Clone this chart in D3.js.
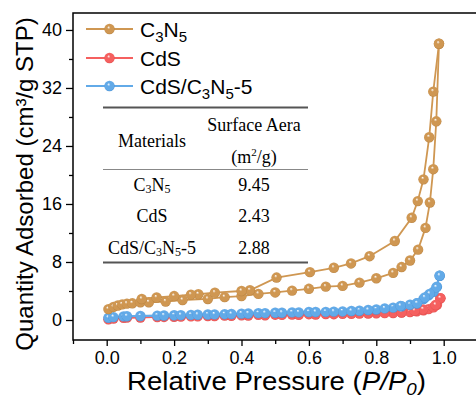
<!DOCTYPE html>
<html>
<head>
<meta charset="utf-8">
<script src="https://cdn.jsdelivr.net/npm/d3@7"></script>
<style>
  body { margin: 0; background: #fff; }
  svg { display: block; font-family: "Liberation Sans", Arial, sans-serif; }
  .tbl { font-family: "Liberation Serif", "Times New Roman", serif; font-size: 18px; }
</style>
</head>
<body>
<div id="chart"></div>
<script>
// C3N5 isotherm (adsorption + desorption branches)
var c3n5AdsP = [0.005,0.02,0.033,0.046,0.06,0.076,0.1,0.125,0.175,0.225,0.3,0.35,0.4,0.45,0.5,0.55,0.6,0.65,0.7,0.75,0.8,0.85,0.875,0.9,0.924,0.946,0.959,0.969,0.978,0.986]
var c3n5AdsQ = [1.5,1.8,2.0,2.15,2.25,2.3,2.45,2.45,2.55,2.75,2.9,3.15,3.3,3.6,3.8,4.05,4.3,4.6,4.7,5.15,5.75,6.5,7.3,8.2,9.7,12.7,16.2,20.8,27.4,38.1]
var c3n5DesP = [0.986,0.969,0.957,0.94,0.923,0.905,0.855,0.78,0.725,0.674,0.603,0.504,0.425,0.4,0.321,0.272,0.25,0.2,0.148,0.104]
var c3n5DesQ = [38.1,31.5,25.2,19.4,16.4,14.1,10.9,8.8,7.8,7.2,6.6,5.85,4.1,4.0,3.77,3.55,3.5,3.3,3.1,2.9]

// CdS
var cdsAdsP = [0.005,0.02,0.05,0.1,0.15,0.2,0.25,0.3,0.35,0.4,0.45,0.5,0.55,0.6,0.65,0.7,0.75,0.8,0.85,0.875,0.9,0.92,0.94,0.955,0.97,0.98,0.99]
var cdsAdsQ = [0.1,0.2,0.3,0.35,0.4,0.45,0.5,0.55,0.6,0.65,0.7,0.73,0.76,0.8,0.82,0.85,0.88,0.92,0.97,1.03,1.1,1.2,1.35,1.5,1.75,2.1,3.0]
var cdsDesP = [0.99,0.976,0.939,0.914,0.875,0.825,0.776,0.726,0.674,0.62,0.57,0.52,0.47,0.42,0.37,0.32,0.27,0.22,0.17,0.06]
var cdsDesQ = [3.0,2.07,1.47,1.28,1.06,0.95,0.9,0.85,0.8,0.76,0.72,0.7,0.66,0.62,0.58,0.54,0.5,0.46,0.42,0.32]

// CdS/C3N5-5
var compAdsP = [0.005,0.02,0.05,0.1,0.15,0.2,0.25,0.3,0.35,0.4,0.45,0.5,0.55,0.6,0.65,0.7,0.75,0.8,0.85,0.875,0.9,0.92,0.94,0.955,0.97,0.98,0.988]
var compAdsQ = [0.3,0.4,0.5,0.55,0.6,0.65,0.7,0.75,0.8,0.88,0.95,1.0,1.05,1.1,1.12,1.18,1.28,1.45,1.7,1.9,2.1,2.3,2.9,3.4,3.9,4.6,6.1]
var compDesP = [0.988,0.978,0.958,0.944,0.921,0.872,0.825,0.776,0.726,0.674,0.62,0.57,0.52,0.47,0.42,0.37,0.32,0.27,0.22,0.17,0.06]
var compDesQ = [6.1,4.5,3.6,3.1,2.3,1.93,1.6,1.38,1.24,1.15,1.1,1.05,1.0,0.95,0.9,0.82,0.77,0.72,0.67,0.62,0.52]

var xTicks = [0, 0.2, 0.4, 0.6, 0.8, 1.0]
var yTicks = [0, 8, 16, 24, 32, 40]

var tableHead = ["Materials", "Surface Aera"]
var tableNames = [["C","3","N","5"], ["CdS"], ["CdS/C","3","N","5","-5"]]
var tableValues = ["9.45", "2.43", "2.88"]

var W = 476, H = 403
var m = {left: 73, top: 13, bottom: 340}

var x = d3.scaleLinear().domain([-0.1, 1.1]).range([m.left, 477.4])
var y = d3.scaleLinear().domain([-2.76, 42.34]).range([m.bottom, m.top])

var svg = d3.select("#chart").append("svg").attr("width", W).attr("height", H)
var defs = svg.append("defs")

var series = [
  {name: "CdS", color: "#f5605f", dark: "#d94646", ads: [cdsAdsP, cdsAdsQ], des: [cdsDesP, cdsDesQ]},
  {name: "comp", color: "#62aae8", dark: "#3f87cc", ads: [compAdsP, compAdsQ], des: [compDesP, compDesQ]},
  {name: "C3N5", color: "#cf9752", dark: "#b07a38", ads: [c3n5AdsP, c3n5AdsQ], des: [c3n5DesP, c3n5DesQ]}
]

series.forEach(function(s) {
  var g = defs.append("radialGradient").attr("id", "ball-" + s.name)
    .attr("cx", "50%").attr("cy", "50%").attr("r", "55%").attr("fx", "40%").attr("fy", "32%")
  g.append("stop").attr("offset", "0%").attr("stop-color", "#ffffff")
  g.append("stop").attr("offset", "28%").attr("stop-color", s.color)
  g.append("stop").attr("offset", "80%").attr("stop-color", s.color)
  g.append("stop").attr("offset", "100%").attr("stop-color", s.dark)
})

// frame
svg.append("rect")
  .attr("x", m.left).attr("y", m.top)
  .attr("width", 477.4 - m.left).attr("height", m.bottom - m.top)
  .attr("fill", "none").attr("stroke", "#000").attr("stroke-width", 1.5)

// axes
var xMinor = d3.range(-0.1, 1.11, 0.2).map(function(v) { return +v.toFixed(1) })
svg.append("g").attr("transform", "translate(0," + m.bottom + ")")
  .call(d3.axisBottom(x).tickValues(xMinor).tickSize(4).tickFormat(""))
svg.append("g").attr("class", "xaxis").attr("transform", "translate(0," + m.bottom + ")")
  .call(d3.axisBottom(x).tickValues(xTicks).tickSize(6).tickPadding(5).tickFormat(d3.format(".1f")))

var yMinor = d3.range(4, 42, 8)
svg.append("g").attr("transform", "translate(" + m.left + ",0)")
  .call(d3.axisLeft(y).tickValues(yMinor).tickSize(4).tickFormat(""))
svg.append("g").attr("class", "yaxis").attr("transform", "translate(" + m.left + ",0)")
  .call(d3.axisLeft(y).tickValues(yTicks).tickSize(7).tickPadding(4))

svg.selectAll(".domain").remove()
svg.selectAll(".tick line").attr("stroke", "#000").attr("stroke-width", 1.3)
svg.selectAll(".tick text").attr("font-size", 18).attr("font-family", "Liberation Sans, Arial, sans-serif").attr("fill", "#000")

// axis titles
var xt = svg.append("text").attr("x", 127).attr("y", 389.5)
  .attr("font-size", 25).attr("fill", "#000")
  .attr("textLength", 299).attr("lengthAdjust", "spacingAndGlyphs")
xt.append("tspan").text("Relative Pressure (")
xt.append("tspan").attr("font-style", "italic").text("P/P")
xt.append("tspan").attr("font-style", "italic").attr("font-size", 17).attr("dy", 5).text("0")
xt.append("tspan").attr("dy", -5).text(")")

svg.append("text").attr("transform", "translate(33,184) rotate(-90)").attr("text-anchor", "middle")
  .attr("font-size", 24).attr("fill", "#000").text("Quantity Adsorbed (cm³/g STP)")

// curves
var line = d3.line().x(function(d) { return x(d[0]) }).y(function(d) { return y(d[1]) })
function pts(arr) { return arr[0].map(function(p, i) { return [p, arr[1][i]] }) }

series.forEach(function(s) {
  var g = svg.append("g")
  ;[s.ads, s.des].forEach(function(br) {
    var d = pts(br)
    g.append("path").datum(d).attr("d", line)
      .attr("fill", "none").attr("stroke", s.color).attr("stroke-width", 1.8)
    g.selectAll(null).data(d).enter().append("circle")
      .attr("cx", function(p) { return x(p[0]) }).attr("cy", function(p) { return y(p[1]) })
      .attr("r", 5.2).attr("fill", "url(#ball-" + s.name + ")")
  })
})

// legend
var legend = [
  {s: series[2], parts: [["C",0],["3",1],["N",0],["5",1]], y: 29},
  {s: series[0], parts: [["CdS",0]], y: 58},
  {s: series[1], parts: [["CdS/C",0],["3",1],["N",0],["5",1],["-5",0]], y: 86}
]
legend.forEach(function(l) {
  svg.append("line").attr("x1", 86).attr("x2", 133).attr("y1", l.y).attr("y2", l.y)
    .attr("stroke", l.s.color).attr("stroke-width", 1.8)
  svg.append("circle").attr("cx", 109.5).attr("cy", l.y).attr("r", 5.2).attr("fill", "url(#ball-" + l.s.name + ")")
  var t = svg.append("text").attr("x", 140).attr("y", l.y + 8).attr("font-size", 21).attr("fill", "#000")
  var shifted = 0
  l.parts.forEach(function(p) {
    var sp = t.append("tspan").text(p[0])
    if (p[1] && !shifted) { sp.attr("dy", 5).attr("font-size", 15); shifted = 1 }
    else if (p[1]) { sp.attr("font-size", 15) }
    else if (shifted) { sp.attr("dy", -5); shifted = 0 }
  })
})

// table inset
var tbl = svg.append("g").attr("class", "tbl").attr("fill", "#000")
var col1 = 152, col2 = 254
tbl.append("line").attr("x1", 103).attr("x2", 308).attr("y1", 107.5).attr("y2", 107.5).attr("stroke", "#555").attr("stroke-width", 1.8)
tbl.append("line").attr("x1", 103).attr("x2", 308).attr("y1", 169.5).attr("y2", 169.5).attr("stroke", "#888").attr("stroke-width", 1.2)
tbl.append("line").attr("x1", 103).attr("x2", 308).attr("y1", 262.5).attr("y2", 262.5).attr("stroke", "#555").attr("stroke-width", 1.8)

tbl.append("text").attr("x", col1).attr("y", 146.5).attr("text-anchor", "middle").text(tableHead[0])
tbl.append("text").attr("x", col2).attr("y", 130.5).attr("text-anchor", "middle").text(tableHead[1])
var unit = tbl.append("text").attr("x", col2).attr("y", 163).attr("text-anchor", "middle")
unit.append("tspan").text("(m")
unit.append("tspan").attr("font-size", 11).attr("dy", -7).text("2")
unit.append("tspan").attr("dy", 7).text("/g)")

var rowY = [190.5, 221.5, 254]
tableNames.forEach(function(parts, i) {
  var t = tbl.append("text").attr("x", col1).attr("y", rowY[i]).attr("text-anchor", "middle")
  parts.forEach(function(p, j) {
    var isSub = /^[35]$/.test(p) && j > 0
    var sp = t.append("tspan").text(p)
    if (isSub) sp.attr("font-size", 12).attr("dy", 2)
    else if (j > 0) sp.attr("dy", -2)
  })
  tbl.append("text").attr("x", col2).attr("y", rowY[i]).attr("text-anchor", "middle").text(tableValues[i])
})
</script>
</body>
</html>
